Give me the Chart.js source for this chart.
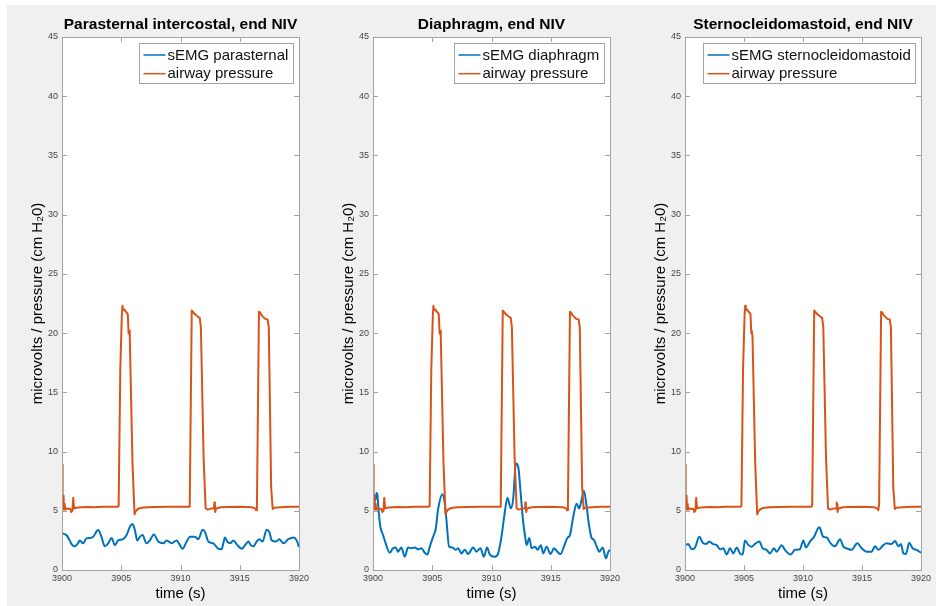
<!DOCTYPE html>
<html>
<head>
<meta charset="utf-8">
<script src="https://cdn.jsdelivr.net/npm/chart.js@4.4.1/dist/chart.umd.min.js"></script>
<style>
  body { margin: 0; background: #fff; width: 936px; height: 606px; overflow: hidden; position: relative; }
  #fig { position: absolute; left: 7px; top: 5px; right: 0; bottom: 0; background: #f0f0f0; }
  canvas { position: absolute; }
</style>
</head>
<body>
<div id="fig"></div>
<script>
// ticks
const xTicks = [3900, 3905, 3910, 3915, 3920];
const yTicks = [0, 5, 10, 15, 20, 25, 30, 35, 40, 45];

// airway pressure (cm H2O), [time s, value] - same signal in every panel
const airwayPressure = [
  [3900.00, 8.9], [3900.05, 5.3], [3900.10, 5.2], [3900.13, 6.3], [3900.17, 5.1],
  [3900.22, 5.6], [3900.28, 5.1], [3900.45, 5.2], [3900.70, 5.15], [3900.78, 4.9],
  [3900.88, 5.0], [3900.95, 6.1], [3901.02, 5.2], [3901.20, 5.25], [3901.60, 5.3],
  [3902.20, 5.32], [3902.80, 5.3], [3903.40, 5.35], [3904.00, 5.33], [3904.70, 5.35],
  [3904.78, 5.4], [3904.92, 17.0], [3905.05, 21.5], [3905.10, 22.3], [3905.15, 21.95],
  [3905.25, 22.0], [3905.35, 21.85], [3905.45, 21.75], [3905.55, 21.6], [3905.62, 20.0],
  [3905.66, 20.2], [3905.72, 19.7], [3905.95, 9.0], [3906.12, 4.7], [3906.22, 4.95],
  [3906.40, 5.15], [3906.70, 5.25], [3907.20, 5.3], [3908.00, 5.32], [3909.00, 5.35],
  [3910.00, 5.35], [3910.72, 5.35], [3910.78, 5.5], [3910.95, 21.9], [3911.05, 21.8],
  [3911.20, 21.6], [3911.35, 21.5], [3911.50, 21.35], [3911.62, 21.3], [3911.72, 20.5],
  [3911.95, 9.5], [3912.12, 5.2], [3912.30, 5.1], [3912.60, 5.2], [3912.82, 5.2],
  [3912.86, 5.7], [3912.90, 5.5], [3912.93, 4.9], [3913.00, 5.2], [3913.40, 5.3],
  [3914.00, 5.32], [3915.00, 5.35], [3916.00, 5.3], [3916.30, 5.2], [3916.38, 5.05],
  [3916.45, 5.5], [3916.62, 21.8], [3916.70, 21.75], [3916.85, 21.5], [3917.00, 21.35],
  [3917.15, 21.2], [3917.35, 21.15], [3917.45, 20.5], [3917.65, 7.0], [3917.78, 5.15],
  [3917.90, 5.25], [3918.50, 5.3], [3919.20, 5.35], [3920.00, 5.35]
];

// sEMG (microvolts), [time s, value]
const semgParasternal = [
  [3900.00, 3.1], [3900.37, 2.95], [3900.65, 2.5], [3900.79, 2.2], [3901.07, 2.0],
  [3901.35, 2.25], [3901.50, 2.5], [3901.78, 2.25], [3902.06, 2.67], [3902.35, 2.7],
  [3902.63, 2.8], [3903.05, 3.37], [3903.33, 2.8], [3903.61, 2.0], [3903.90, 2.25],
  [3904.18, 2.7], [3904.46, 2.1], [3904.74, 2.5], [3905.16, 2.6], [3905.45, 2.95],
  [3905.73, 3.65], [3905.95, 3.88], [3906.15, 3.37], [3906.35, 2.5], [3906.57, 2.8],
  [3906.80, 2.95], [3907.13, 2.25], [3907.41, 2.5], [3907.75, 3.0], [3908.12, 2.4],
  [3908.55, 2.25], [3908.83, 2.5], [3909.25, 2.25], [3909.67, 2.5], [3910.18, 1.8],
  [3910.52, 2.4], [3910.80, 2.8], [3911.22, 2.8], [3911.50, 2.6], [3911.87, 3.4],
  [3912.07, 3.2], [3912.35, 2.4], [3912.77, 2.25], [3913.19, 1.8], [3913.47, 1.76],
  [3913.61, 2.25], [3913.75, 2.75], [3913.95, 2.4], [3914.18, 2.25], [3914.46, 2.5],
  [3914.80, 2.1], [3915.17, 1.8], [3915.45, 2.1], [3915.73, 2.4], [3915.92, 2.1],
  [3916.15, 2.0], [3916.43, 2.4], [3916.65, 2.6], [3916.93, 2.4], [3917.27, 3.4],
  [3917.50, 3.2], [3917.70, 2.5], [3918.06, 2.4], [3918.35, 2.6], [3918.69, 2.25],
  [3919.10, 2.6], [3919.53, 2.75], [3919.80, 2.5], [3920.00, 1.95]
];

const semgDiaphragm = [
  [3900.00, 5.5], [3900.10, 6.3], [3900.20, 5.9], [3900.30, 6.5], [3900.38, 6.3],
  [3900.45, 5.3], [3900.62, 3.65], [3900.85, 2.95], [3901.07, 2.25], [3901.41, 1.46],
  [3901.69, 1.83], [3901.92, 1.9], [3902.11, 1.55], [3902.39, 1.9], [3902.68, 1.12],
  [3902.96, 1.9], [3903.24, 1.83], [3903.52, 1.9], [3903.80, 1.75], [3904.08, 1.83],
  [3904.37, 1.46], [3904.59, 1.3], [3904.79, 1.97], [3905.07, 2.8], [3905.30, 3.5],
  [3905.49, 5.1], [3905.86, 6.4], [3906.06, 5.6], [3906.20, 4.2], [3906.42, 1.97],
  [3906.70, 1.9], [3906.99, 1.7], [3907.18, 1.83], [3907.46, 1.4], [3907.75, 1.7],
  [3908.03, 1.35], [3908.45, 1.9], [3908.73, 1.55], [3909.07, 1.83], [3909.35, 1.12],
  [3909.63, 1.9], [3909.86, 1.3], [3910.28, 1.12], [3910.56, 1.4], [3910.84, 2.8],
  [3911.07, 4.5], [3911.35, 6.1], [3911.63, 5.2], [3911.83, 6.0], [3912.06, 9.0],
  [3912.26, 8.7], [3912.46, 6.5], [3912.68, 4.0], [3912.82, 2.95], [3912.96, 2.1],
  [3913.19, 2.7], [3913.39, 1.83], [3913.67, 1.97], [3913.89, 1.7], [3914.17, 2.1],
  [3914.37, 1.4], [3914.65, 1.97], [3914.99, 1.35], [3915.27, 1.83], [3915.55, 1.55],
  [3915.83, 1.35], [3916.11, 1.97], [3916.40, 2.7], [3916.62, 2.95], [3916.90, 4.5],
  [3917.18, 5.6], [3917.40, 5.2], [3917.60, 5.9], [3917.80, 6.7], [3918.03, 5.34],
  [3918.25, 3.65], [3918.45, 2.7], [3918.65, 2.55], [3918.88, 1.97], [3919.10, 1.55],
  [3919.38, 1.9], [3919.66, 0.98], [3919.86, 1.55], [3920.00, 1.7]
];

const semgSterno = [
  [3900.00, 2.1], [3900.28, 2.2], [3900.56, 1.75], [3900.85, 1.9], [3901.21, 2.8],
  [3901.50, 2.3], [3901.78, 2.2], [3902.06, 2.4], [3902.34, 2.2], [3902.68, 2.1],
  [3902.97, 1.75], [3903.25, 1.83], [3903.53, 1.3], [3903.81, 1.83], [3904.10, 1.4],
  [3904.38, 1.9], [3904.66, 1.4], [3904.89, 1.3], [3905.08, 2.5], [3905.37, 2.1],
  [3905.65, 1.97], [3905.93, 2.2], [3906.30, 2.4], [3906.58, 1.83], [3906.92, 1.7],
  [3907.20, 1.4], [3907.54, 1.83], [3907.77, 1.55], [3908.19, 2.1], [3908.47, 1.7],
  [3908.95, 1.3], [3909.32, 1.7], [3909.74, 1.75], [3910.03, 2.5], [3910.25, 1.9],
  [3910.59, 2.4], [3910.93, 2.8], [3911.38, 3.6], [3911.72, 2.8], [3912.00, 2.75],
  [3912.34, 2.25], [3912.71, 2.0], [3913.14, 2.6], [3913.42, 1.97], [3913.70, 1.83],
  [3914.12, 1.7], [3914.60, 2.25], [3914.97, 1.83], [3915.40, 1.55], [3915.82, 1.55],
  [3916.10, 2.0], [3916.38, 1.7], [3916.81, 2.1], [3917.09, 2.25], [3917.51, 2.2],
  [3917.80, 2.45], [3918.08, 2.0], [3918.31, 2.2], [3918.50, 1.4], [3918.73, 1.35],
  [3919.00, 2.3], [3919.29, 1.83], [3919.63, 1.7], [3920.00, 1.46]
];

const FONT = "'Liberation Sans', Arial, Helvetica, sans-serif";
const BLUE = "#0072BD";
const ORANGE = "#D95319";
const AXIS = "#a3a3a3";

// white axes area, box with inward ticks, title and legend like MATLAB
const matlabAxes = {
  id: "matlabAxes",
  beforeDraw(chart) {
    const a = chart.chartArea, ctx = chart.ctx;
    ctx.save();
    ctx.fillStyle = "#fff";
    ctx.fillRect(a.left, a.top, a.right - a.left, a.bottom - a.top);
    ctx.restore();
  },
  afterDatasetsDraw(chart, args, opts) {
    const a = chart.chartArea, ctx = chart.ctx;
    const xs = chart.scales.x, ys = chart.scales.y;
    ctx.save();
    ctx.strokeStyle = AXIS;
    ctx.lineWidth = 1;
    ctx.beginPath();
    xTicks.forEach(v => {
      const px = Math.round(xs.getPixelForValue(v)) + 0.5;
      ctx.moveTo(px, a.bottom); ctx.lineTo(px, a.bottom - 5);
      ctx.moveTo(px, a.top); ctx.lineTo(px, a.top + 5);
    });
    yTicks.forEach(v => {
      const py = Math.round(ys.getPixelForValue(v)) + 0.5;
      ctx.moveTo(a.left, py); ctx.lineTo(a.left + 5, py);
      ctx.moveTo(a.right, py); ctx.lineTo(a.right - 5, py);
    });
    ctx.stroke();
    ctx.strokeRect(Math.round(a.left) + 0.5, Math.round(a.top) + 0.5,
      Math.round(a.right - a.left), Math.round(a.bottom - a.top));

    // title
    ctx.fillStyle = "#000";
    ctx.font = "bold 15.5px " + FONT;
    ctx.textAlign = "center";
    ctx.textBaseline = "middle";
    ctx.fillText(opts.title, (a.left + a.right) / 2, 20);

    // legend
    const items = chart.data.datasets;
    ctx.font = "15px " + FONT;
    const textW = Math.max(...items.map(d => ctx.measureText(d.label).width));
    const w = Math.round(textW + 33), h = 40;
    const bx = Math.round(a.right - 6 - w) + 0.5, by = Math.round(a.top + 6) + 0.5;
    ctx.fillStyle = "#fff";
    ctx.fillRect(bx, by, w, h);
    ctx.strokeStyle = AXIS;
    ctx.strokeRect(bx, by, w, h);
    ctx.textAlign = "left";
    items.forEach((d, i) => {
      const cy = by + 11.5 + i * 18.7;
      ctx.strokeStyle = d.borderColor;
      ctx.lineWidth = 1.5;
      ctx.beginPath();
      ctx.moveTo(bx + 4, cy); ctx.lineTo(bx + 26, cy);
      ctx.stroke();
      ctx.fillStyle = "#111";
      ctx.fillText(d.label, bx + 28, cy + 0.5);
    });
    ctx.restore();
  }
};

const panels = [
  { title: "Parasternal intercostal, end NIV", label: "sEMG parasternal", data: semgParasternal, left: 62, right: 299 },
  { title: "Diaphragm, end NIV", label: "sEMG diaphragm", data: semgDiaphragm, left: 373, right: 610 },
  { title: "Sternocleidomastoid, end NIV", label: "sEMG sternocleidomastoid", data: semgSterno, left: 685, right: 921 }
];

const toPoints = arr => arr.map(p => ({ x: p[0], y: p[1] }));

panels.forEach(p => {
  const canvas = document.createElement("canvas");
  const cw = p.right - p.left + 55 + 14;
  canvas.width = cw;
  canvas.height = 598;
  canvas.style.left = (p.left - 55) + "px";
  canvas.style.top = "5px";
  canvas.style.width = cw + "px";
  canvas.style.height = "598px";
  document.body.appendChild(canvas);

  new Chart(canvas.getContext("2d"), {
    type: "line",
    data: {
      datasets: [
        {
          label: p.label,
          data: toPoints(p.data),
          borderColor: BLUE,
          borderWidth: 2,
          borderJoinStyle: "round",
          pointRadius: 0,
          cubicInterpolationMode: "monotone",
          order: 1
        },
        {
          label: "airway pressure",
          data: toPoints(airwayPressure),
          borderColor: ORANGE,
          borderWidth: 2,
          borderJoinStyle: "round",
          pointRadius: 0,
          tension: 0,
          order: 0
        }
      ]
    },
    options: {
      responsive: false,
      animation: false,
      devicePixelRatio: 1,
      layout: { padding: { left: 22, right: 14, top: 32, bottom: 0 } },
      plugins: {
        legend: { display: false },
        tooltip: { enabled: false },
        matlabAxes: { title: p.title }
      },
      scales: {
        x: {
          type: "linear",
          min: 3900,
          max: 3920,
          afterBuildTicks: s => { s.ticks = xTicks.map(v => ({ value: v })); },
          afterFit: s => { s.height = 33; },
          grid: { display: false, drawTicks: false },
          border: { display: false },
          ticks: { font: { family: FONT, size: 9 }, color: "#444", padding: 3, maxRotation: 0, callback: v => String(v) },
          title: { display: true, text: "time (s)", font: { family: FONT, size: 15 }, color: "#000", padding: 0 }
        },
        y: {
          min: 0,
          max: 45,
          afterBuildTicks: s => { s.ticks = yTicks.map(v => ({ value: v })); },
          afterFit: s => { s.width = 33; },
          grid: { display: false, drawTicks: false },
          border: { display: false },
          ticks: { font: { family: FONT, size: 9 }, color: "#444", padding: 4, callback: v => String(v) },
          title: { display: true, text: "microvolts / pressure (cm H₂0)", font: { family: FONT, size: 15 }, color: "#000", padding: 0 }
        }
      }
    },
    plugins: [matlabAxes]
  });
});
</script>
</body>
</html>
